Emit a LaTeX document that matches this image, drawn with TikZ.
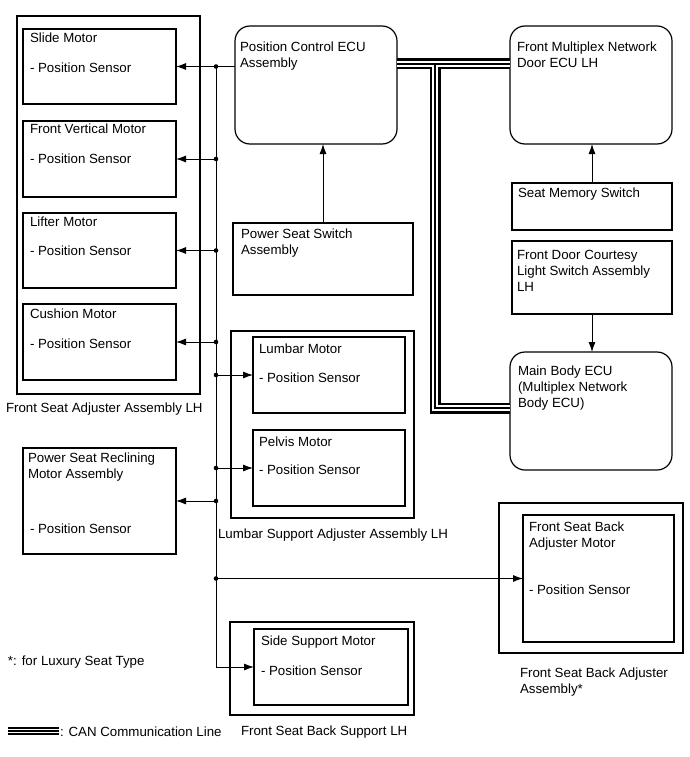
\documentclass[tikz,border=0pt]{standalone}
\usepackage{fontspec}
\setmainfont{Liberation Sans}
\usetikzlibrary{arrows.meta}
\tikzset{
  box/.style={draw, line width=1.2pt, inner sep=0pt, outer sep=0pt, anchor=north west},
  ecubox/.style={box, rounded corners=15pt},
  txt/.style={anchor=base west, inner sep=0pt, outer sep=0pt, font=\fontsize{13.3}{16}\selectfont},
  arr/.style={line width=0.9pt, -{Latex[length=10pt,width=7pt]}},
  wire/.style={line width=0.9pt},
  canblack/.style={line width=11pt, line join=miter, draw=black},
  canwhite/.style={line width=6.5pt, line join=miter, draw=white},
  canmid/.style={line width=1.6pt, line join=miter, draw=black},
}
\begin{document}
\begin{tikzpicture}[x=1pt,y=-1pt]
\useasboundingbox (0,0) rectangle (690,757);

% ---- Front Seat Adjuster Assembly LH
\node[box, minimum width=183pt, minimum height=378pt] (fsa) at (17,16) {};
\node[box, minimum width=153pt, minimum height=75pt] (slide) at (23,29) {};
\node[box, minimum width=153pt, minimum height=76pt] (fv) at (23,121) {};
\node[box, minimum width=153pt, minimum height=75pt] (lifter) at (23,213) {};
\node[box, minimum width=153pt, minimum height=76pt] (cushion) at (23,304) {};
\node[txt] (tslide) at (30,43) {Slide Motor};
\node[txt] (tslides) at (30,73) {- Position Sensor};
\node[txt] (tfv) at (30,133) {Front Vertical Motor};
\node[txt] (tfvs) at (30,163) {- Position Sensor};
\node[txt] (tlift) at (30,226) {Lifter Motor};
\node[txt] (tlifts) at (30,255) {- Position Sensor};
\node[txt] (tcush) at (30,318) {Cushion Motor};
\node[txt] (tcushs) at (30,348) {- Position Sensor};
\node[txt] (lfsa) at (6,412) {Front Seat Adjuster Assembly LH};

% ---- Power Seat Reclining
\node[box, minimum width=153pt, minimum height=106pt] (recl) at (23,448) {};
\node[txt, align=left] (trecl) at (28,478) {Power Seat Reclining\\Motor Assembly};
\node[txt] (trecls) at (30,533) {- Position Sensor};

% ---- Position Control ECU
\node[ecubox, minimum width=162pt, minimum height=118pt] (ecu) at (235,26) {};
\node[txt, align=left] (tecu) at (240,68) {Position Control ECU\\Assembly};

% ---- Power Seat Switch
\node[box, minimum width=180pt, minimum height=72pt] (psw) at (233,223) {};
\node[txt, align=left] (tpsw) at (241,254) {Power Seat Switch\\Assembly};

% ---- Lumbar Support Adjuster Assembly
\node[box, minimum width=183pt, minimum height=187pt] (lsa) at (231,331) {};
\node[box, minimum width=152pt, minimum height=76pt] (lumbar) at (253,337) {};
\node[box, minimum width=152pt, minimum height=76pt] (pelvis) at (253,430) {};
\node[txt] (tlum) at (259,353) {Lumbar Motor};
\node[txt] (tlums) at (259,382) {- Position Sensor};
\node[txt] (tpel) at (259,446) {Pelvis Motor};
\node[txt] (tpels) at (259,474) {- Position Sensor};
\node[txt] (llsa) at (218,538) {Lumbar Support Adjuster Assembly LH};

% ---- Side Support
\node[box, minimum width=184pt, minimum height=93pt] (ssa) at (230,622) {};
\node[box, minimum width=154pt, minimum height=76pt] (side) at (254,629) {};
\node[txt] (tside) at (261,645) {Side Support Motor};
\node[txt] (tsides) at (261,675) {- Position Sensor};
\node[txt] (lssa) at (241,735) {Front Seat Back Support LH};

% ---- Right column
\node[ecubox, minimum width=162pt, minimum height=118pt] (door) at (510,26) {};
\node[txt, align=left] (tdoor) at (517,68) {Front Multiplex Network\\Door ECU LH};
\node[box, minimum width=160pt, minimum height=47pt] (sms) at (512,183) {};
\node[txt] (tsms) at (518,197) {Seat Memory Switch};
\node[box, minimum width=160pt, minimum height=73pt] (cts) at (512,241) {};
\node[txt, align=left] (tcts) at (517,291) {Front Door Courtesy\\Light Switch Assembly\\LH};
\node[ecubox, minimum width=162pt, minimum height=118pt] (mb) at (510,352) {};
\node[txt, align=left] (tmb) at (518,407) {Main Body ECU\\(Multiplex Network\\Body ECU)};

% ---- Front Seat Back Adjuster
\node[box, minimum width=184pt, minimum height=150pt] (fsb) at (499,503) {};
\node[box, minimum width=151pt, minimum height=127pt] (fsbm) at (523,515) {};
\node[txt, align=left] (tfsbm) at (529,547) {Front Seat Back\\Adjuster Motor};
\node[txt] (tfsbms) at (529,594) {- Position Sensor};
\node[txt, align=left] (lfsb) at (520,693) {Front Seat Back Adjuster\\Assembly*};

% ---- notes
\node[txt] (note) at (8,665) {*: for Luxury Seat Type};
\node[txt] (leg) at (60,736) {: CAN Communication Line};

% ---- bus wiring
\coordinate (bus) at (216,0);
\draw[arr] (slide.east -| ecu.west) -- (slide.east);
\draw[wire] (slide.east -| bus) -- (side.west -| bus);
\draw[arr] (side.west -| bus) -- (side.west);
\draw[arr] (fv.east -| bus) -- (fv.east);
\draw[arr] (lifter.east -| bus) -- (lifter.east);
\draw[arr] (cushion.east -| bus) -- (cushion.east);
\draw[arr] (lumbar.west -| bus) -- (lumbar.west);
\draw[arr] (pelvis.west -| bus) -- (pelvis.west);
\draw[arr] (recl.east -| bus) -- (recl.east);
\draw[arr] (fsbm.west -| bus) -- (fsbm.west);
\foreach \n/\a in {slide/east, fv/east, lifter/east, cushion/east, lumbar/west, pelvis/west, recl/east, fsbm/west}
  \fill (\n.\a -| bus) circle (2.3pt);

% ---- switch arrows
\draw[arr] (psw.north) -- (psw.north |- ecu.south);
\draw[arr] (sms.north) -- (sms.north |- door.south);
\draw[arr] (cts.south) -- (cts.south |- mb.north);

% ---- CAN lines
\coordinate (cx) at (435,0);
\path (ecu.north east) ++(0,38) coordinate (ca);
\path (ca -| door.west) coordinate (cb);
\path (ca -| cx) coordinate (cc);
\path (mb.north west) ++(0,56) coordinate (cd);
\path (cd -| cx) coordinate (ce);
\foreach \s in {canblack, canwhite, canmid}{
  \draw[\s] (ca) -- (cb);
  \draw[\s] (cc) -- (ce) -- (cd);
}
% legend
\coordinate (la) at (8,731);
\coordinate (lb) at (59,731);
\draw[line width=8.5pt] (la) -- (lb);
\draw[line width=4.5pt, white] (la) -- (lb);
\draw[line width=1.5pt] (la) -- (lb);
\end{tikzpicture}
\end{document}
